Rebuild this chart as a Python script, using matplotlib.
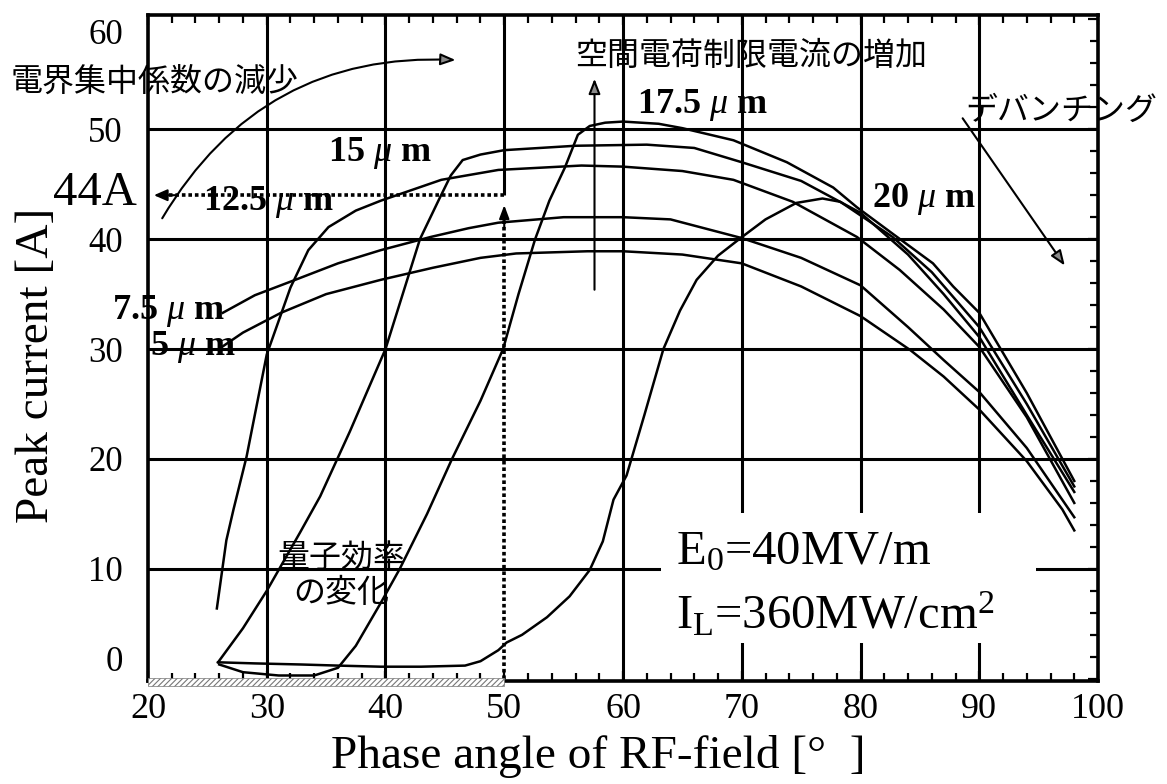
import numpy as np
import matplotlib.pyplot as plt
from matplotlib.patches import Rectangle

plt.rcParams['font.family'] = ['Liberation Serif', 'Noto Sans CJK JP']
plt.rcParams['mathtext.fontset'] = 'custom'
plt.rcParams['mathtext.rm'] = 'Liberation Serif'
plt.rcParams['mathtext.it'] = 'Liberation Serif:italic'
plt.rcParams['mathtext.bf'] = 'Liberation Serif:bold'
plt.rcParams['hatch.color'] = '#777777'
plt.rcParams['hatch.linewidth'] = 0.8

# corriente pico [A] vs fase del campo RF [grados], una curva por espesor
x5 = [26.1, 28, 31.2, 35, 39.6, 44, 48, 51, 54, 57, 60, 65, 70, 75, 80, 84.2, 87, 90, 94, 97, 98]
y5 = [30.1, 31.5, 33.3, 35.0, 36.3, 37.4, 38.3, 38.7, 38.8, 38.9, 38.9, 38.6, 37.8, 35.7, 33.0, 29.9, 27.5, 24.5, 19.8, 15.4, 13.5]

x7 = [26.3, 29, 32.4, 36, 39.6, 43.8, 47, 49.5, 55, 60, 64, 70, 75, 80, 84, 87, 90, 94, 98]
y7 = [33.3, 34.9, 36.3, 37.8, 39.0, 40.2, 41.0, 41.5, 42.0, 42.0, 41.8, 40.1, 38.3, 35.8, 32.0, 29.0, 26.1, 21.0, 14.7]

x12 = [25.8, 26.6, 27.2, 28.3, 30.0, 32.0, 33.5, 35.2, 37.5, 39.6, 44.7, 49.5, 56.5, 60, 65, 69.3, 74.3, 79.7, 83.3, 87, 90, 94, 98]
y12 = [6.4, 12.6, 15.4, 20.2, 29.5, 35.6, 39.0, 41.1, 42.6, 43.5, 45.4, 46.3, 46.7, 46.6, 46.2, 45.4, 43.4, 40.2, 37.2, 33.6, 30.2, 23.8, 16.0]

x15 = [25.9, 28, 30, 32.8, 34.5, 37, 40, 42.9, 44.5, 45.5, 46.5, 48, 50, 56, 62, 66, 70, 75, 80, 84, 87, 90, 94, 98]
y15 = [1.5, 4.6, 8.0, 13.3, 16.6, 22.5, 30.0, 40.0, 43.6, 45.8, 47.2, 47.7, 48.1, 48.5, 48.6, 48.3, 47.0, 45.3, 42.4, 38.6, 35.0, 31.1, 24.0, 17.0]

x17 = [26, 28, 31, 34, 36, 37.5, 39.6, 41.2, 43.5, 45.6, 48, 49.9, 51.2, 52.6, 53.8, 55.1, 56.2, 57.2, 58.5, 60, 63, 65, 69.3, 73.8, 77.7, 79.7, 82.7, 86.1, 87.8, 90, 94, 98]
y17 = [1.3, 0.6, 0.3, 0.3, 1.0, 3.0, 6.9, 10.0, 15.0, 20.0, 25.3, 30.0, 35.0, 40.0, 43.5, 46.5, 49.5, 50.3, 50.6, 50.7, 50.5, 50.1, 49.0, 47.0, 44.7, 42.9, 40.5, 37.8, 35.7, 33.3, 26.0, 18.0]

x20 = [25.9, 29, 32.9, 36, 39.6, 43, 46.7, 48, 49.5, 50.2, 51.5, 53.6, 55.5, 57.2, 58.3, 59.2, 60.3, 61.8, 63.4, 64.8, 66.2, 68, 69.9, 72, 74.6, 76.8, 78.3, 80.5, 82.7, 86, 90, 94, 98]
y20 = [1.5, 1.4, 1.3, 1.2, 1.1, 1.1, 1.2, 1.6, 2.6, 3.3, 4.0, 5.6, 7.5, 9.9, 12.5, 16.3, 18.5, 24.0, 30.0, 33.5, 36.3, 38.5, 40.1, 41.8, 43.3, 43.7, 43.4, 41.8, 40.2, 37.0, 32.0, 25.0, 17.5]

curvas_x = [x5, x7, x12, x15, x17, x20]
curvas_y = [y5, y7, y12, y15, y17, y20]

# etiquetas de cada curva: texto, x, y
etiquetas = ['5 $\\mu$ m', '7.5 $\\mu$ m', '12.5 $\\mu$ m', '15 $\\mu$ m', '17.5 $\\mu$ m', '20 $\\mu$ m']
etiq_x = [20.2, 17.0, 24.6, 35.2, 61.2, 81.0]
etiq_y = [30.2, 33.5, 43.4, 47.8, 52.2, 43.7]

corriente_44 = 44
fase_50 = 50

xticks = [20, 30, 40, 50, 60, 70, 80, 90, 100]
yticks = [0, 10, 20, 30, 40, 50, 60]
grid_x = [30, 40, 60, 70, 80, 90]
grid_y = [10, 20, 30, 40, 50]

fig = plt.figure(figsize=(11.67, 7.84), dpi=100)
ax = fig.add_axes([0.1268, 0.1314, 0.8141, 0.8495])
ax.set_xlim(20, 100)
ax.set_ylim(-0.2, 60.4)

# grilla a mano (la de 50 solo arriba de 44 A)
ax.vlines(grid_x, 0, 1, transform=ax.get_xaxis_transform(), color='black', lw=2.2, zorder=1)
ax.vlines(fase_50, corriente_44, 60.4, color='black', lw=2.2, zorder=1)
ax.hlines(grid_y, 0, 1, transform=ax.get_yaxis_transform(), color='black', lw=2.2, zorder=1)

# recuadro blanco para las condiciones
ax.add_patch(Rectangle((63.2, 3.3), 31.6, 11.8, fc='white', ec='none', zorder=1.5))

for xs, ys in zip(curvas_x, curvas_y):
    ax.plot(xs, ys, color='black', lw=1.8, zorder=3)

for t, tx, ty in zip(etiquetas, etiq_x, etiq_y):
    ax.text(tx, ty, t, fontsize=26, fontweight='bold', va='center', ha='left', zorder=4)

# 44 A
ax.plot([fase_50, 21.5], [corriente_44, corriente_44], color='black', lw=2.6, ls=(0, (1, 0.8)), zorder=4)
ax.annotate('', xy=(20.5, corriente_44), xytext=(22.5, corriente_44),
            arrowprops=dict(arrowstyle='-|>,head_length=0.8,head_width=0.35', color='black', lw=1.5, shrinkA=0, shrinkB=0),
            zorder=5)
ax.plot([fase_50, fase_50], [0, 42], color='black', lw=2.6, ls=(0, (1, 0.8)), zorder=4)
ax.annotate('', xy=(fase_50, 43.1), xytext=(fase_50, 41.0),
            arrowprops=dict(arrowstyle='-|>,head_length=0.8,head_width=0.3', color='black', lw=1.5, shrinkA=0, shrinkB=0),
            zorder=5)
ax.text(19.1, corriente_44 + 0.2, '44A', fontsize=35, ha='right', va='center')

# banda rayada 20-50 grados
ax.add_patch(Rectangle((20, -0.65), 30, 0.7, fc='white', ec='#777777', lw=0.5, hatch='//////', clip_on=False, zorder=6))

# flechas y notas
flecha_gris = dict(arrowstyle='-|>,head_length=0.9,head_width=0.35', fc='#8a8a8a', ec='black', lw=1.5, shrinkA=0, shrinkB=0)
ax.annotate('', xy=(45.9, 56.3), xytext=(21.2, 41.9),
            arrowprops=dict(connectionstyle='arc3,rad=-0.3', **flecha_gris), annotation_clip=False, zorder=5)
ax.annotate('', xy=(57.6, 54.6), xytext=(57.6, 35.4), arrowprops=flecha_gris, zorder=5)
ax.annotate('', xy=(97.2, 37.6), xytext=(88.6, 51.0), arrowprops=flecha_gris, zorder=5)

jp = ['Noto Sans CJK JP', 'DejaVu Sans']
ax.text(8.4, 54.3, '電界集中係数の減少', family=jp, fontsize=23, ha='left', va='center', zorder=6)
ax.text(56.0, 56.7, '空間電荷制限電流の増加', family=jp, fontsize=23, ha='left', va='center', zorder=6)
ax.text(88.8, 51.7, 'デバンチング', family=jp, fontsize=23, ha='left', va='center', zorder=6)
ax.text(36.3, 9.4, '量子効率\nの変化', family=jp, fontsize=23, ha='center', va='center', linespacing=1.1, zorder=6)

ax.text(64.5, 11.5, 'E$_0$=40MV/m', fontsize=35, ha='left', va='center', zorder=6)
ax.text(64.5, 5.8, 'I$_\\mathrm{L}$=360MW/cm$^2$', fontsize=35, ha='left', va='center', zorder=6)

# ejes
ax.set_xticks(xticks)
ax.set_yticks(yticks)
ax.set_xticks(np.arange(20, 101, 2), minor=True)
ax.set_yticks(np.arange(0, 61, 2), minor=True)
ax.tick_params(axis='x', which='both', direction='in', top=True, bottom=True, labelsize=26, pad=9)
ax.tick_params(axis='y', which='both', direction='in', left=False, right=True, labelsize=25, pad=18)
ax.tick_params(which='major', length=7, width=1.6)
ax.tick_params(which='minor', length=6, width=1.6)
for s in ax.spines.values():
    s.set_linewidth(2.6)
ylabs = ax.get_yticklabels()
ylabs[0].set_va('bottom')
ylabs[-1].set_va('top')

ax.text(-0.117, 0.474, 'Peak current [A]', transform=ax.transAxes, rotation=90, fontsize=34, ha='center', va='center')
ax.text(0.474, -0.114, 'Phase angle of RF-field [°  ]', transform=ax.transAxes, fontsize=34, ha='center', va='center')

fig.savefig('out.png', dpi=100)
